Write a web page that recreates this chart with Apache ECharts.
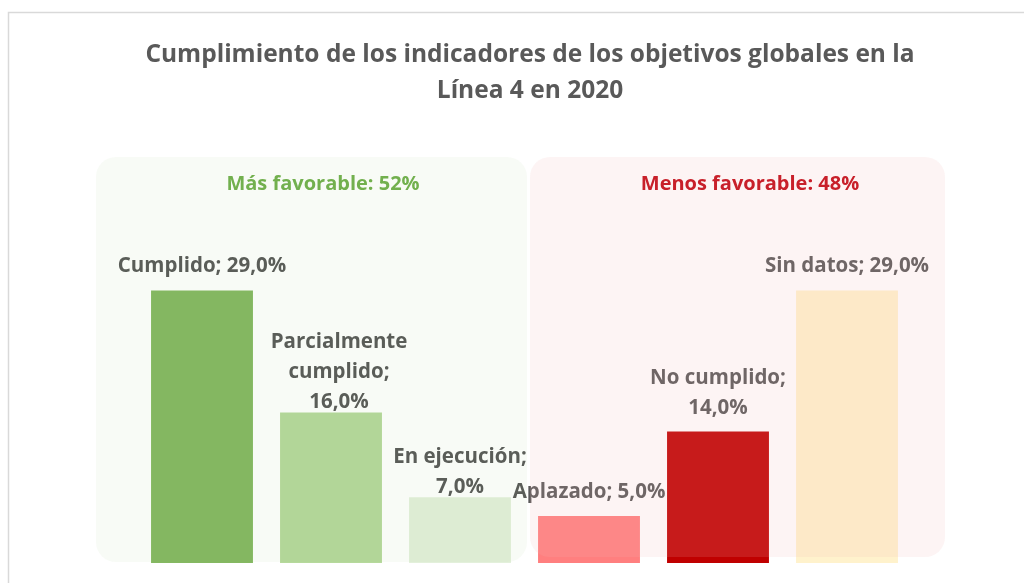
<!DOCTYPE html>
<html lang="es">
<head>
    <meta charset="UTF-8">
    <title>Cumplimiento Línea 4</title>
    <style>
        html, body { margin: 0; padding: 0; background: #fff; }
        #main { width: 1024px; height: 583px; }
    </style>
</head>
<body>
    <div id="main"></div>
    <script src="https://cdn.jsdelivr.net/npm/echarts@6/dist/echarts.min.js"></script>
    <script>
        // datos
        var categories = ['Cumplido', 'Parcialmente cumplido', 'En ejecución', 'Aplazado', 'No cumplido', 'Sin datos'];
        var values = [29.0, 16.0, 7.0, 5.0, 14.0, 29.0];
        var groupNames = ['Más favorable', 'Menos favorable'];
        var groupSize = [3, 3];

        var barColors = ['#85b862', '#b6d99c', '#e3f0db', '#ff7f7f', '#c00000', '#fff2cc'];
        // cortes de línea de cada etiqueta (como en el original)
        var labelText = [
            'Cumplido; 29,0%',
            'Parcialmente\ncumplido;\n16,0%',
            'En ejecución;\n7,0%',
            'Aplazado; 5,0%',
            'No cumplido;\n14,0%',
            'Sin datos; 29,0%'
        ];
        var labelDist = [9, -5, -4.5, 9, 8.5, 9];
        var labelOffsetX = [0, 8, 0, 0, 0, 0];

        var fav = values.slice(0, groupSize[0]).reduce(function (a, b) { return a + b; }, 0);
        var menos = values.slice(groupSize[0]).reduce(function (a, b) { return a + b; }, 0);

        var font = '"Open Sans", Lato, sans-serif';

        var myChart = echarts.init(document.getElementById('main'));
        var option = {
            animation: false,
            title: {
                text: 'Cumplimiento de los indicadores de los objetivos globales en la\nLínea 4 en 2020',
                left: 525,
                top: 32,
                textAlign: 'center',
                textStyle: {
                    fontFamily: font,
                    fontWeight: 'bold',
                    fontSize: 24.5,
                    lineHeight: 36,
                    color: '#595959'
                }
            },
            grid: { left: 137.5, right: 112.5, top: 281, bottom: 20 },
            xAxis: {
                type: 'category',
                data: categories,
                show: false
            },
            yAxis: {
                type: 'value',
                min: 0,
                max: 30,
                show: false
            },
            series: [{
                type: 'bar',
                barCategoryGap: '21%',
                data: values.map(function (v, i) {
                    return {
                        value: v,
                        itemStyle: { color: barColors[i] },
                        label: {
                            distance: labelDist[i],
                            offset: [labelOffsetX[i], 0],
                            formatter: labelText[i]
                        }
                    };
                }),
                label: {
                    show: true,
                    position: 'top',
                    fontFamily: font,
                    fontWeight: 'bold',
                    fontSize: 20.5,
                    lineHeight: 30,
                    color: '#595959'
                }
            }],
            graphic: [
                {
                    type: 'rect',
                    z: 0,
                    shape: { x: 8.5, y: 12.5, width: 1100, height: 700 },
                    style: { fill: 'none', stroke: '#d9d9d9', lineWidth: 1.5 }
                },
                {
                    type: 'rect',
                    z: 10,
                    silent: true,
                    shape: { x: 96, y: 157, width: 431, height: 405, r: 20 },
                    style: { fill: 'rgba(112,173,71,0.05)' }
                },
                {
                    type: 'rect',
                    z: 10,
                    silent: true,
                    shape: { x: 530, y: 157, width: 415, height: 400, r: 20 },
                    style: { fill: 'rgba(240,178,178,0.15)' }
                },
                {
                    type: 'text',
                    z: 11,
                    x: 323,
                    y: 184,
                    style: {
                        text: groupNames[0] + ': ' + Math.round(fav) + '%',
                        font: 'bold 20px ' + font,
                        fill: '#72b04e',
                        align: 'center',
                        verticalAlign: 'middle'
                    }
                },
                {
                    type: 'text',
                    z: 11,
                    x: 750,
                    y: 184,
                    style: {
                        text: groupNames[1] + ': ' + Math.round(menos) + '%',
                        font: 'bold 20px ' + font,
                        fill: '#c8202a',
                        align: 'center',
                        verticalAlign: 'middle'
                    }
                }
            ]
        };
        myChart.setOption(option);
    </script>
</body>
</html>
